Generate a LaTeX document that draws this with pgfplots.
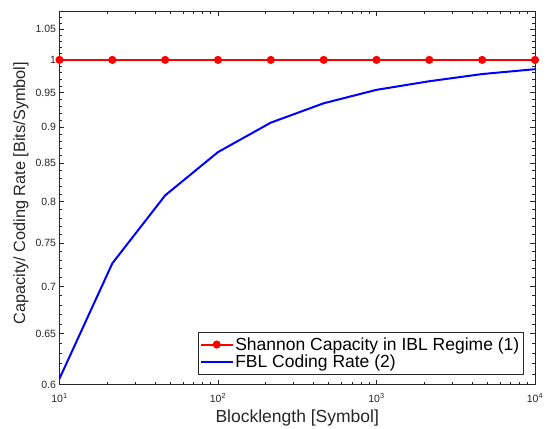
\documentclass[border=0pt]{standalone}
\usepackage{pgfplots}
\pgfplotsset{compat=1.18}
\usepackage{fontspec}
\setmainfont{Liberation Sans}
\definecolor{axgray}{gray}{0.15}
\begin{document}
\begin{tikzpicture}
\begin{axis}[
  scale only axis,
  width=475.5pt, height=373.5pt,
  xmode=log, ymode=log,
  xmin=10, xmax=10000,
  ymin=0.6, ymax=1.08,
  ytick={0.6,0.65,0.7,0.75,0.8,0.85,0.9,0.95,1,1.05},
  yticklabels={0.6,0.65,0.7,0.75,0.8,0.85,0.9,0.95,1,1.05},
  minor ytick={0.61,0.62,0.63,0.64,0.66,0.67,0.68,0.69,0.71,0.72,0.73,0.74,0.76,0.77,0.78,0.79,0.81,0.82,0.83,0.84,0.86,0.87,0.88,0.89,0.91,0.92,0.93,0.94,0.96,0.97,0.98,0.99,1.01,1.02,1.03,1.04,1.06,1.07,1.08},
  xtick={10,100,1000,10000},
  xticklabels={10\textsuperscript{1},10\textsuperscript{2},10\textsuperscript{3},10\textsuperscript{4}},
  tick align=inside,
  major tick length=5pt, minor tick length=3pt,
  axis line style={axgray, line width=0.6pt},
  tick style={axgray, line width=0.6pt},
  tick label style={font=\fontsize{10.5}{12}\selectfont, text=axgray},
  xticklabel style={yshift=-5pt},
  every axis x label/.style={at={(axis description cs:0.5,-0.0897)}, anchor=center},
  every axis y label/.style={at={(axis description cs:-0.081,0.512)}, rotate=90, anchor=center},
  xlabel={Blocklength [Symbol]},
  ylabel={Capacity/ Coding Rate [Bits/Symbol]},
  xlabel style={font=\fontsize{17.5}{19}\selectfont, text=axgray},
  ylabel style={font=\fontsize{16.3}{18}\selectfont, text=axgray},
  /pgf/number format/assume math mode=true,
  legend cell align=left,
  legend image code/.code={\draw[mark repeat=2,mark phase=2,#1] plot coordinates {(0pt,0pt) (16pt,0pt) (32pt,0pt)};},
  legend style={at={(rel axis cs:1,0)}, anchor=south east, xshift=-12pt, yshift=10.5pt,
    font=\fontsize{17.5}{19}\selectfont, draw=axgray, inner xsep=2pt, inner ysep=3pt, row sep=-1pt,
    nodes={inner xsep=1.5pt}},
]
\addplot[color=red, line width=2pt, mark=*, mark size=3pt, mark options={fill=red}] coordinates {
(10,1) (21.544,1) (46.416,1) (100,1) (215.44,1) (464.16,1) (1000,1) (2154.4,1) (4641.6,1) (10000,1)};
\addlegendentry{Shannon Capacity in IBL Regime (1)}
\addplot[color=blue, line width=2pt, mark=none] coordinates {
(10,0.6056) (21.544,0.7261) (46.416,0.808) (100,0.865) (215.44,0.906) (464.16,0.934) (1000,0.954) (2154.4,0.967) (4641.6,0.978) (10000,0.9855)};
\addlegendentry{FBL Coding Rate (2)}
\end{axis}
\pgfresetboundingbox
\path (current axis.south west) ++(-59.5pt,-43.5pt) coordinate (bbA);
\path (current axis.north east) ++(16pt,11pt) coordinate (bbB);
\path[use as bounding box] (bbA) rectangle (bbB);
\end{tikzpicture}
\end{document}
